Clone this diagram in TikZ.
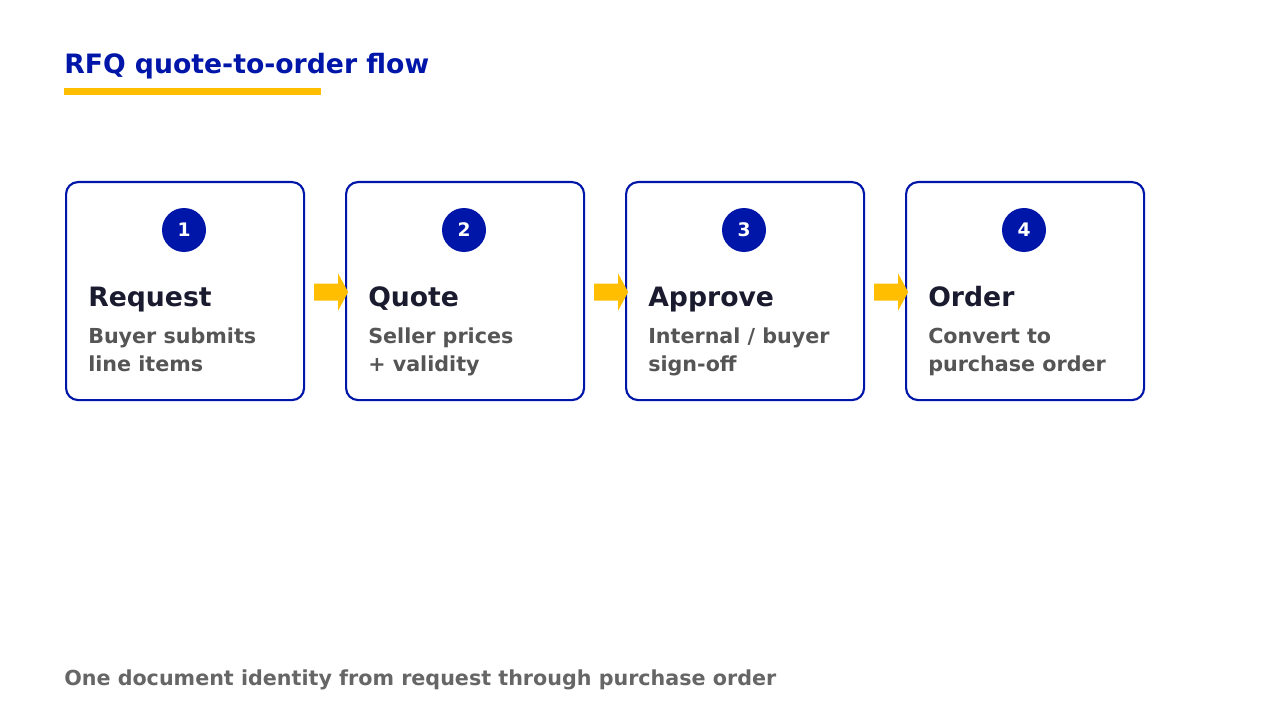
\documentclass[tikz,border=0pt]{standalone}
\usepackage{fontspec}
\setmainfont{DejaVu Sans}
\definecolor{cblue}{HTML}{0016A8}
\definecolor{cyel}{HTML}{FFBF00}
\definecolor{cdark}{HTML}{1B1B2F}
\definecolor{cgray}{HTML}{555555}
\definecolor{cfoot}{HTML}{666666}
\begin{document}
\begin{tikzpicture}[x=0.75pt,y=-0.75pt,
  box/.style={draw=cblue,line width=1.6pt,rounded corners=9pt,minimum width=178.5pt,minimum height=163.5pt,inner sep=0pt},
  num/.style={circle,fill=cblue,minimum size=33pt,inner sep=0pt,text=white,font=\bfseries\fontsize{14}{14}\selectfont},
  head/.style={anchor=base west,text=cdark,font=\bfseries\fontsize{20}{20}\selectfont,inner sep=0pt},
  desc/.style={anchor=north west,text=cgray,font=\bfseries\fontsize{15.5}{21}\selectfont,align=left,inner sep=0pt},
  arr/.style={fill=cyel}]
\useasboundingbox (0,0) rectangle (1280,720);
\node[anchor=base west,inner sep=0pt,text=cblue,font=\bfseries\fontsize{20}{20}\selectfont] (t) at (64,74) {RFQ quote-to-order flow};
\fill[cyel] (64,88) rectangle (321,95);
\foreach \i/\h/\d in {0/Request/{Buyer submits\\line items},1/Quote/{Seller prices\\+ validity},2/Approve/{Internal / buyer\\sign-off},3/Order/{Convert to\\purchase order}}{
  \node[box,anchor=north west] (b\i) at ({65+280*\i},181) {};
  \node[num] (n\i) at ({184+280*\i},230) {\the\numexpr\i+1\relax};
  \node[head] (h\i) at ({88+280*\i},306) {\h};
  \node[desc] (d\i) at ({88+280*\i},328) {\d};
}
\foreach \i in {0,1,2}{
  \fill[arr] ([xshift=6.75pt,yshift=-0.75pt]b\i.east) ++(0,-6.4pt) -- ++(18pt,0) -- ++(0,-7.5pt) -- ++(7.5pt,13.9pt) -- ++(-7.5pt,13.9pt) -- ++(0,-7.5pt) -- ++(-18pt,0) -- cycle;
}
\node[anchor=base west,inner sep=0pt,text=cfoot,font=\bfseries\fontsize{15.5}{15.5}\selectfont] (f) at (64,685) {One document identity from request through purchase order};
\end{tikzpicture}
\end{document}
